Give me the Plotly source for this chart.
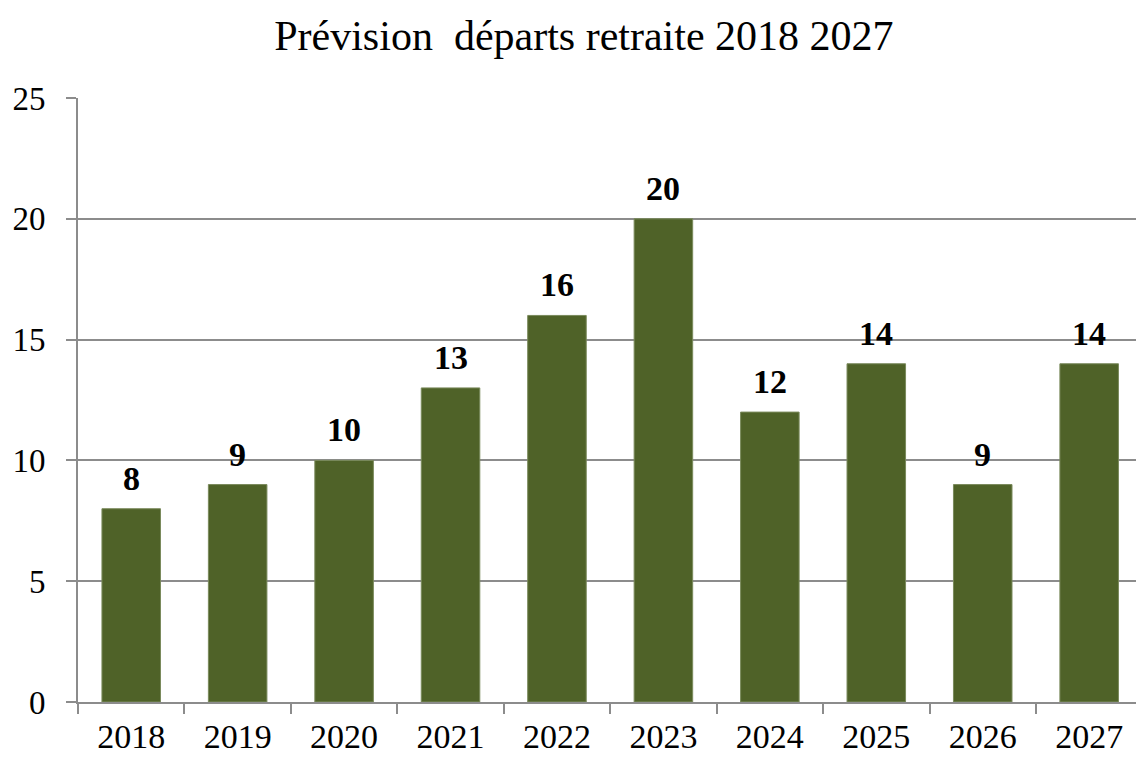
import plotly.graph_objects as go

# Forecast of retirements per year
years = ["2018", "2019", "2020", "2021", "2022", "2023", "2024", "2025", "2026", "2027"]
departures = [8, 9, 10, 13, 16, 20, 12, 14, 9, 14]
y_ticks = [0, 5, 10, 15, 20, 25]

BAR_COLOR = "#4F6228"
AXIS_COLOR = "#8C8C8C"
SERIF = "Liberation Serif, Times New Roman, serif"

fig = go.Figure()
fig.add_trace(go.Bar(
    x=years,
    y=departures,
    width=0.55,
    marker=dict(color=BAR_COLOR, line=dict(color="#7A8A5C", width=1)),
    hoverinfo="x+y",
))

# value labels above each bar (category index used as x position)
for i, v in enumerate(departures):
    fig.add_annotation(
        x=i, y=v, xref="x", yref="y", text=f"<b>{v}</b>", showarrow=False,
        yanchor="bottom", yshift=10,
        font=dict(family=SERIF, size=34, color="black"),
    )

fig.update_layout(
    width=1136, height=758,
    margin=dict(l=78, r=0, t=98, b=56),
    paper_bgcolor="white", plot_bgcolor="white",
    showlegend=False,
    title=dict(
        text="Prévision  départs retraite 2018 2027",
        x=0.514, xanchor="center", y=0.953, yanchor="middle",
        font=dict(family=SERIF, size=42, color="black"),
    ),
)

fig.update_xaxes(
    type="category",
    range=[-0.5, 9.44],
    automargin=False,
    showline=True, linecolor=AXIS_COLOR, linewidth=2,
    ticks="outside", tickson="boundaries", ticklen=10, tickcolor=AXIS_COLOR, tickwidth=2,
    tickfont=dict(family=SERIF, size=34, color="black"),
    ticklabelstandoff=3,
    showgrid=False,
)
fig.update_yaxes(
    range=[0, 25],
    tickvals=y_ticks,
    automargin=False,
    showline=True, linecolor=AXIS_COLOR, linewidth=2,
    ticks="outside", ticklen=10, tickcolor=AXIS_COLOR, tickwidth=2,
    showgrid=True, gridcolor=AXIS_COLOR, gridwidth=2,
    zeroline=False,
    tickfont=dict(family=SERIF, size=33, color="black"),
    ticklabelstandoff=14,
)

fig.write_html("out.html")
